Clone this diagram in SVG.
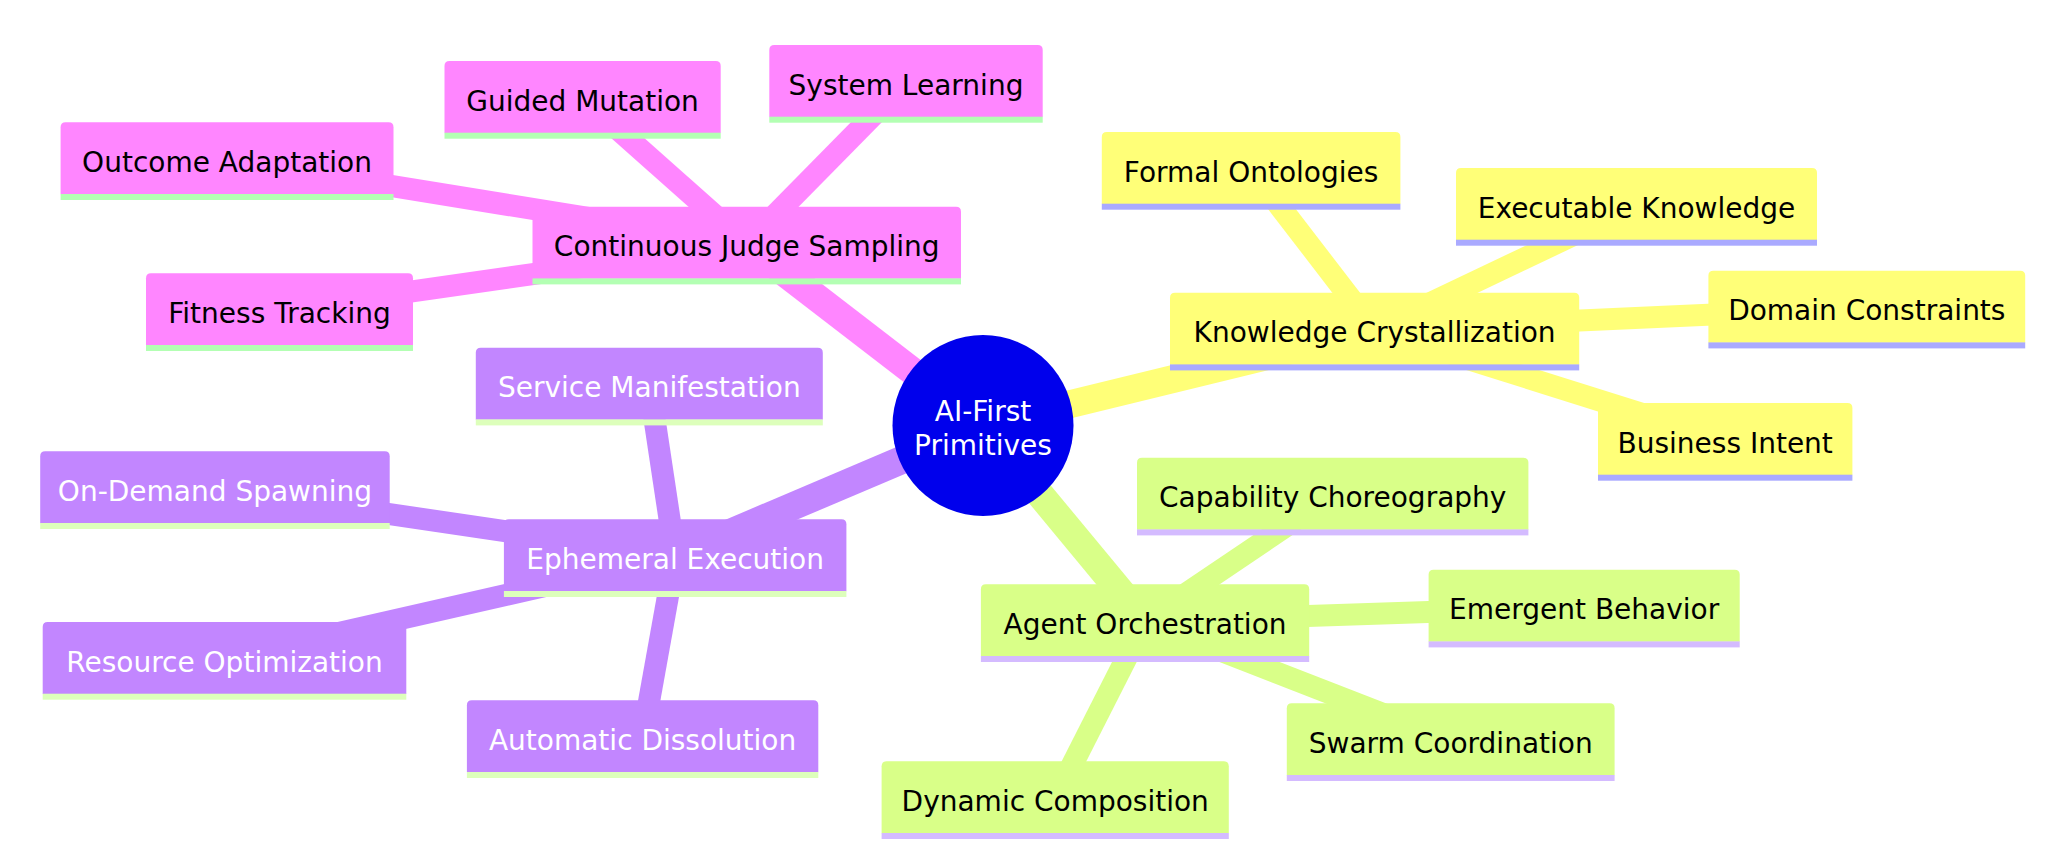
<svg xmlns="http://www.w3.org/2000/svg" width="2050" height="864" viewBox="0 0 2050 864">
<style>
text{font-family:"DejaVu Sans","Liberation Sans",sans-serif;font-size:28px;text-anchor:middle}
.e0{stroke-width:28;stroke-linecap:butt;fill:none}
.e1{stroke-width:22;stroke-linecap:butt;fill:none}
.pink .bg{fill:#ff86ff}.pink .ln{fill:#b3ffb3}.pink text{fill:#000}
.purple .bg{fill:#c286ff}.purple .ln{fill:#ddffbb}.purple text{fill:#fff}
.yellow .bg{fill:#ffff78}.yellow .ln{fill:#aaaaff}.yellow text{fill:#000}
.green .bg{fill:#d9ff88}.green .ln{fill:#d4bbff}.green text{fill:#000}
.sp{stroke:#ff86ff}.sv{stroke:#c286ff}.sy{stroke:#ffff78}.sg{stroke:#d9ff88}
</style>
<rect width="2050" height="864" fill="#fff"/>
<g id="connectors">
<line class="e0 sp" x1="983" y1="425.5" x2="746.75" y2="243.7"/>
<line class="e0 sv" x1="983" y1="425.5" x2="675.15" y2="556.3"/>
<line class="e0 sy" x1="983" y1="425.5" x2="1374.6" y2="329.7"/>
<line class="e0 sg" x1="983" y1="425.5" x2="1145.05" y2="621.3"/>
<line class="e1 sp" x1="746.75" y1="243.7" x2="582.6" y2="98"/>
<line class="e1 sp" x1="746.75" y1="243.7" x2="906" y2="82"/>
<line class="e1 sp" x1="746.75" y1="243.7" x2="227.05" y2="159.3"/>
<line class="e1 sp" x1="746.75" y1="243.7" x2="279.5" y2="310.3"/>
<line class="e1 sv" x1="675.15" y1="556.3" x2="649.3" y2="384.7"/>
<line class="e1 sv" x1="675.15" y1="556.3" x2="214.95" y2="488.3"/>
<line class="e1 sv" x1="675.15" y1="556.3" x2="224.5" y2="659"/>
<line class="e1 sv" x1="675.15" y1="556.3" x2="642.6" y2="737.3"/>
<line class="e1 sy" x1="1374.6" y1="329.7" x2="1251.1" y2="169"/>
<line class="e1 sy" x1="1374.6" y1="329.7" x2="1636.5" y2="205"/>
<line class="e1 sy" x1="1374.6" y1="329.7" x2="1866.8" y2="307.7"/>
<line class="e1 sy" x1="1374.6" y1="329.7" x2="1725.2" y2="440"/>
<line class="e1 sg" x1="1145.05" y1="621.3" x2="1332.7" y2="494.7"/>
<line class="e1 sg" x1="1145.05" y1="621.3" x2="1584.15" y2="606.7"/>
<line class="e1 sg" x1="1145.05" y1="621.3" x2="1450.7" y2="740.3"/>
<line class="e1 sg" x1="1145.05" y1="621.3" x2="1055.2" y2="798.3"/>
</g>
<g id="root">
<circle cx="983" cy="425.5" r="90.5" fill="#0000ec"/>
<text x="983" y="420.5" fill="#fff">AI-First</text>
<text x="983" y="455" fill="#fff">Primitives</text>
</g>
<g id="n-cjs" class="pink" transform="translate(532.5,206.7)"><path class="bg" d="M0 72V5Q0 0 5 0H423.5Q428.5 0 428.5 5V72Z"/><rect class="ln" x="0" y="71.7" width="428.5" height="6"/><text x="214.25" y="49.5">Continuous Judge Sampling</text></g>
<g id="n-gm" class="pink" transform="translate(444.5,61)"><path class="bg" d="M0 72V5Q0 0 5 0H271.2Q276.2 0 276.2 5V72Z"/><rect class="ln" x="0" y="71.7" width="276.2" height="6"/><text x="138.1" y="49.5">Guided Mutation</text></g>
<g id="n-sl" class="pink" transform="translate(769.3,45)"><path class="bg" d="M0 72V5Q0 0 5 0H268.4Q273.4 0 273.4 5V72Z"/><rect class="ln" x="0" y="71.7" width="273.4" height="6"/><text x="136.7" y="49.5">System Learning</text></g>
<g id="n-oa" class="pink" transform="translate(60.6,122.3)"><path class="bg" d="M0 72V5Q0 0 5 0H327.9Q332.9 0 332.9 5V72Z"/><rect class="ln" x="0" y="71.7" width="332.9" height="6"/><text x="166.45" y="49.5">Outcome Adaptation</text></g>
<g id="n-ft" class="pink" transform="translate(146,273.3)"><path class="bg" d="M0 72V5Q0 0 5 0H262Q267 0 267 5V72Z"/><rect class="ln" x="0" y="71.7" width="267" height="6"/><text x="133.5" y="49.5">Fitness Tracking</text></g>
<g id="n-ee" class="purple" transform="translate(503.9,519.3)"><path class="bg" d="M0 72V5Q0 0 5 0H337.5Q342.5 0 342.5 5V72Z"/><rect class="ln" x="0" y="71.7" width="342.5" height="6"/><text x="171.25" y="49.5">Ephemeral Execution</text></g>
<g id="n-sm" class="purple" transform="translate(475.8,347.7)"><path class="bg" d="M0 72V5Q0 0 5 0H342Q347 0 347 5V72Z"/><rect class="ln" x="0" y="71.7" width="347" height="6"/><text x="173.5" y="49.5">Service Manifestation</text></g>
<g id="n-ods" class="purple" transform="translate(40.2,451.3)"><path class="bg" d="M0 72V5Q0 0 5 0H344.5Q349.5 0 349.5 5V72Z"/><rect class="ln" x="0" y="71.7" width="349.5" height="6"/><text x="174.75" y="49.5">On-Demand Spawning</text></g>
<g id="n-ro" class="purple" transform="translate(42.7,622)"><path class="bg" d="M0 72V5Q0 0 5 0H358.6Q363.6 0 363.6 5V72Z"/><rect class="ln" x="0" y="71.7" width="363.6" height="6"/><text x="181.8" y="49.5">Resource Optimization</text></g>
<g id="n-ad" class="purple" transform="translate(466.9,700.3)"><path class="bg" d="M0 72V5Q0 0 5 0H346.4Q351.4 0 351.4 5V72Z"/><rect class="ln" x="0" y="71.7" width="351.4" height="6"/><text x="175.7" y="49.5">Automatic Dissolution</text></g>
<g id="n-kc" class="yellow" transform="translate(1170,292.7)"><path class="bg" d="M0 72V5Q0 0 5 0H404.2Q409.2 0 409.2 5V72Z"/><rect class="ln" x="0" y="71.7" width="409.2" height="6"/><text x="204.6" y="49.5">Knowledge Crystallization</text></g>
<g id="n-fo" class="yellow" transform="translate(1101.8,132)"><path class="bg" d="M0 72V5Q0 0 5 0H293.6Q298.6 0 298.6 5V72Z"/><rect class="ln" x="0" y="71.7" width="298.6" height="6"/><text x="149.3" y="49.5">Formal Ontologies</text></g>
<g id="n-ek" class="yellow" transform="translate(1456,168)"><path class="bg" d="M0 72V5Q0 0 5 0H356Q361 0 361 5V72Z"/><rect class="ln" x="0" y="71.7" width="361" height="6"/><text x="180.5" y="49.5">Executable Knowledge</text></g>
<g id="n-dc" class="yellow" transform="translate(1708.4,270.7)"><path class="bg" d="M0 72V5Q0 0 5 0H311.8Q316.8 0 316.8 5V72Z"/><rect class="ln" x="0" y="71.7" width="316.8" height="6"/><text x="158.4" y="49.5">Domain Constraints</text></g>
<g id="n-bi" class="yellow" transform="translate(1598,403)"><path class="bg" d="M0 72V5Q0 0 5 0H249.4Q254.4 0 254.4 5V72Z"/><rect class="ln" x="0" y="71.7" width="254.4" height="6"/><text x="127.2" y="49.5">Business Intent</text></g>
<g id="n-ao" class="green" transform="translate(980.9,584.3)"><path class="bg" d="M0 72V5Q0 0 5 0H323.3Q328.3 0 328.3 5V72Z"/><rect class="ln" x="0" y="71.7" width="328.3" height="6"/><text x="164.15" y="49.5">Agent Orchestration</text></g>
<g id="n-cc" class="green" transform="translate(1137,457.7)"><path class="bg" d="M0 72V5Q0 0 5 0H386.4Q391.4 0 391.4 5V72Z"/><rect class="ln" x="0" y="71.7" width="391.4" height="6"/><text x="195.7" y="49.5">Capability Choreography</text></g>
<g id="n-eb" class="green" transform="translate(1428.6,569.7)"><path class="bg" d="M0 72V5Q0 0 5 0H306.1Q311.1 0 311.1 5V72Z"/><rect class="ln" x="0" y="71.7" width="311.1" height="6"/><text x="155.55" y="49.5">Emergent Behavior</text></g>
<g id="n-sc" class="green" transform="translate(1286.8,703.3)"><path class="bg" d="M0 72V5Q0 0 5 0H322.8Q327.8 0 327.8 5V72Z"/><rect class="ln" x="0" y="71.7" width="327.8" height="6"/><text x="163.9" y="49.5">Swarm Coordination</text></g>
<g id="n-dcp" class="green" transform="translate(881.6,761.3)"><path class="bg" d="M0 72V5Q0 0 5 0H342.2Q347.2 0 347.2 5V72Z"/><rect class="ln" x="0" y="71.7" width="347.2" height="6"/><text x="173.6" y="49.5">Dynamic Composition</text></g>
</svg>
